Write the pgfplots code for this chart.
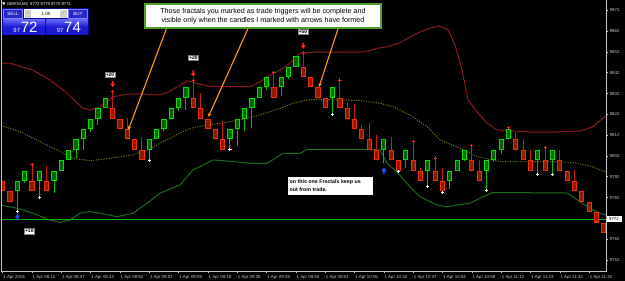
\documentclass[border=0pt]{standalone}
\usepackage{fontspec}
\setmainfont{Liberation Sans}
\usepackage{pgfplots}
\pgfplotsset{compat=1.18}
\usepackage{pgfplotstable}
\usetikzlibrary{arrows.meta}

\definecolor{bullEdge}{HTML}{00E000}
\definecolor{bullFill}{HTML}{006400}
\definecolor{bearEdge}{HTML}{F03000}
\definecolor{bearFill}{HTML}{8E1A00}
\definecolor{bullWick}{HTML}{00C000}
\definecolor{bearWick}{HTML}{C82010}
\definecolor{upperBand}{HTML}{8B1A1A}
\definecolor{midBand}{HTML}{7A7A28}
\definecolor{lowerBand}{HTML}{1E6A1E}
\definecolor{bidLine}{HTML}{00B400}
\definecolor{fracRed}{HTML}{FF2020}
\definecolor{fracWhite}{HTML}{EAF4FF}
\definecolor{arrowBlue}{HTML}{2050FF}
\definecolor{noteOrange}{HTML}{FF9A1E}
\definecolor{boxGreen}{HTML}{4FA02A}
\definecolor{panelBlue}{HTML}{0A0A90}
\definecolor{btnBlue}{HTML}{2828C8}
\definecolor{bigBlue}{HTML}{1A1AD0}
\definecolor{frameGray}{HTML}{C8C8C8}

\pgfdeclareplotmark{dnarrow}{%
  \pgfpathmoveto{\pgfpoint{-0.9bp}{3.2bp}}%
  \pgfpathlineto{\pgfpoint{0.9bp}{3.2bp}}%
  \pgfpathlineto{\pgfpoint{0.9bp}{0.3bp}}%
  \pgfpathlineto{\pgfpoint{2.6bp}{0.3bp}}%
  \pgfpathlineto{\pgfpoint{0bp}{-3bp}}%
  \pgfpathlineto{\pgfpoint{-2.6bp}{0.3bp}}%
  \pgfpathlineto{\pgfpoint{-0.9bp}{0.3bp}}%
  \pgfpathclose\pgfusepathqfill}
\pgfdeclareplotmark{uparrow}{%
  \pgfpathmoveto{\pgfpoint{-0.9bp}{-3.2bp}}%
  \pgfpathlineto{\pgfpoint{0.9bp}{-3.2bp}}%
  \pgfpathlineto{\pgfpoint{0.9bp}{-0.3bp}}%
  \pgfpathlineto{\pgfpoint{2.6bp}{-0.3bp}}%
  \pgfpathlineto{\pgfpoint{0bp}{3bp}}%
  \pgfpathlineto{\pgfpoint{-2.6bp}{-0.3bp}}%
  \pgfpathlineto{\pgfpoint{-0.9bp}{-0.3bp}}%
  \pgfpathclose\pgfusepathqfill}

% bullish candles: x O H L C
\pgfplotstableread{
x O H L C
2 9785 9790 9775.5 9790
3 9790 9795 9789 9795
5 9790 9795 9782 9795
7 9790 9795 9784 9795
8 9795 9800 9795 9800
9 9800 9805 9800 9805
10 9805 9810 9801 9810
11 9810 9815 9805 9815
12 9815 9820 9813.5 9820
13 9820 9825 9817 9825
14 9825 9830 9825 9830
20 9805 9810 9800 9810
21 9810 9815 9810 9815
22 9815 9820 9814 9820
23 9820 9825 9820 9825
24 9825 9830 9823.5 9830
25 9830 9835 9824 9835
31 9810 9815 9805 9815
32 9815 9820 9807 9820
33 9820 9825 9814 9825
34 9825 9830 9815.5 9830
35 9830 9835 9830 9835
36 9835 9840 9833.5 9840
38 9835 9840 9831 9840
39 9840 9845 9839 9845
40 9845 9850 9845 9850
45 9830 9835 9822 9835
52 9805 9810 9798.5 9810
55 9800 9805 9796 9805
58 9795 9800 9787.5 9800
61 9790 9795 9786 9795
62 9795 9800 9795 9800
63 9800 9805 9799.5 9805
66 9795 9800 9785.5 9800
67 9800 9805 9799 9805
68 9805 9810 9803 9810
69 9810 9815.5 9810 9815
73 9800 9805 9793 9805
75 9800 9805 9793 9805
}\bull

% bearish candles: x O H L C
\pgfplotstableread{
x O H L C
0 9790 9790 9785 9785
1 9785 9785 9780 9780
4 9790 9798 9785 9785
6 9790 9797 9785 9785
15 9825 9833 9820 9820
16 9820 9820 9815 9815
17 9815 9820.5 9810 9810
18 9810 9810 9805 9805
19 9805 9811 9800 9800
26 9830 9838.5 9825 9825
27 9825 9832.5 9820 9820
28 9820 9820 9815 9815
29 9815 9815 9810 9810
30 9810 9819 9805 9805
37 9835 9842 9830 9830
41 9845 9851.5 9840 9840
42 9840 9840 9835 9835
43 9835 9835 9830 9830
44 9830 9830 9825 9825
46 9830 9838.5 9825 9825
47 9825 9828 9820 9820
48 9820 9827 9815 9815
49 9815 9817 9810 9810
50 9810 9818 9805 9805
51 9805 9812 9800 9800
53 9805 9811 9800 9800
54 9800 9800 9794.5 9795
56 9800 9809 9795 9795
57 9795 9796 9790 9790
59 9795 9801 9790 9790
60 9790 9796 9784.5 9785
64 9800 9807 9795 9795
65 9795 9800 9790 9790
70 9810 9813.5 9805 9805
71 9805 9810 9800 9800
72 9800 9805 9795 9795
74 9800 9806 9795 9795
76 9800 9805 9795 9795
77 9795 9795 9790 9790
78 9790 9795.5 9785 9785
79 9785 9785 9780 9780
80 9780 9780 9775 9775
81 9775 9775 9770 9770
82 9770 9770 9765 9765
}\bear

\begin{document}
\begin{tikzpicture}
\fill[black] (0,0) rectangle (625bp,281bp);
\path[use as bounding box] (0,0) rectangle (625bp,281bp);
\begin{axis}[
  at={(1bp,10bp)}, anchor=south west,
  width=605bp, height=271bp, scale only axis,
  xmin=-0.232, xmax=82.3, ymin=9746.7, ymax=9877,
  axis line style={draw=none},
  xtick={0,4,...,80},
  xticklabels={1 Apr 2016,1 Apr 08:12,1 Apr 08:37,1 Apr 08:43,1 Apr 08:52,1 Apr 09:01,1 Apr 09:05,1 Apr 09:18,1 Apr 09:26,1 Apr 09:35,1 Apr 09:45,1 Apr 09:51,1 Apr 10:05,1 Apr 10:32,1 Apr 10:37,1 Apr 10:54,1 Apr 10:59,1 Apr 11:12,1 Apr 11:23,1 Apr 11:32,1 Apr 11:34},
  ytick={9752,9762,9772,9782,9792,9802,9812,9822,9832,9842,9852,9862,9872},
  yticklabels={9752,9762,9772,9782,9792,9802,9812,9822,9832,9842,9852,9862,9872},
  xtick pos=left, ytick pos=right, yticklabel pos=right,
  tick align=outside,
  major tick length=2bp,
  tick style={draw=frameGray, line width=0.6bp},
  /pgf/number format/assume math mode=true,
  tick label style={font=\fontsize{4.4}{5}\selectfont, text=frameGray},
  xticklabel style={anchor=north west, inner sep=0pt, xshift=0.5bp, yshift=-2.5bp},
  yticklabel style={anchor=west, inner sep=0pt, xshift=1.5bp},
]
% bands
\addplot[upperBand, line width=1bp] coordinates {
(-0.23,9846.6) (1.0,9846.6) (4.13,9843.3) (6.45,9838.5) (8.77,9832.3) (10.82,9825.1) (11.91,9824.1) (13.27,9825.6) (15.05,9830.4) (16.96,9831.8) (19.14,9831.8) (21.05,9831.3) (22.41,9832.3) (24.19,9836.1) (25.14,9838.1) (26.92,9836.6) (28.28,9835.4) (29.65,9835.3) (33.74,9835.3) (35.10,9837.7) (36.06,9840.1) (37.83,9843.3) (39.20,9846.6) (39.88,9849.0) (40.56,9851.5) (42.33,9851.9) (45.06,9851.9) (48.74,9851.9) (50.11,9852.7) (51.06,9853.8) (52.43,9854.5) (54.20,9856.5) (55.57,9859.2) (56.93,9861.6) (58.30,9863.5) (59.66,9864.5) (60.75,9862.6) (61.70,9855.4) (62.66,9843.3) (63.48,9828.9) (64.84,9822.7) (66.07,9817.9) (67.44,9814.5) (69.62,9814.0) (71.94,9813.5) (75.07,9813.5) (77.39,9813.8) (78.76,9814.0) (80.53,9816.1) (82.3,9821.5)};
\addplot[midBand, line width=1bp, dash pattern=on 1.1bp off 1.4bp] coordinates {
(-0.23,9816.6) (2.36,9813.7) (5.09,9808.9) (7.41,9804.9) (9.59,9800.9) (11.91,9799.7) (14.64,9800.9) (17.78,9802.5) (19.69,9804.9) (21.05,9807.3) (23.23,9811.3) (25.55,9815.3) (27.87,9816.9) (29.65,9817.7) (32.37,9819.3) (35.10,9821.7) (37.83,9824.9) (39.60,9827.3) (41.51,9828.9) (43.29,9829.3) (46.02,9828.9) (48.74,9828.7) (51.47,9827.3) (53.25,9825.7) (55.57,9821.7) (57.89,9816.1) (59.70,9809.7) (62.39,9805.7) (64.71,9801.7) (67.84,9799.3) (70.16,9799.3) (72.89,9799.3) (76.03,9799.3) (78.35,9798.5) (80.12,9797.2) (82.3,9794.3)};
\addplot[lowerBand, line width=1bp] coordinates {
(-0.23,9778.4) (1.91,9776.9) (4.13,9774.5) (6.45,9771.2) (7.82,9770.1) (9.18,9771.2) (10.55,9774.5) (11.91,9775.3) (13.27,9774.5) (15.59,9772.8) (17.78,9774.5) (19.69,9779.3) (21.46,9784.1) (24.19,9788.1) (25.96,9795.3) (26.92,9796.9) (28.69,9800.1) (31.42,9799.3) (33.74,9798.5) (36.06,9798.5) (38.24,9803.3) (40.56,9803.3) (41.51,9805.1) (42.88,9805.2) (45.06,9805.2) (49.70,9805.2) (51.47,9804.9) (52.43,9798.5) (53.79,9794.3) (55.57,9787.2) (56.93,9782.4) (59.25,9778.4) (60.62,9777.6) (61.98,9778.4) (63.75,9779.3) (65.52,9782.4) (66.89,9784.4) (68.80,9784.4) (76.99,9784.2) (78.76,9780.0) (80.53,9776.0) (82.3,9773.4)};
% bid line
\addplot[bidLine, line width=1bp] coordinates {(-0.23,9771.6) (82.3,9771.6)};
% wicks
\addplot[bullWick, line width=1bp, quiver={u=0, v=\thisrow{H}-\thisrow{L}}] table[x=x, y=L] {\bull};
\addplot[bearWick, line width=1bp, quiver={u=0, v=\thisrow{H}-\thisrow{L}}] table[x=x, y=L] {\bear};
% bodies
\addplot[bullEdge, line width=5.2bp, quiver={u=0, v=\thisrow{C}-\thisrow{O}}] table[x=x, y=O] {\bull};
\addplot[bullFill, line width=3.2bp, quiver={u=0, v=\thisrow{C}-\thisrow{O}-1.0}] table[x=x, y expr=\thisrow{O}+0.5] {\bull};
\addplot[bearEdge, line width=5.2bp, quiver={u=0, v=\thisrow{O}-\thisrow{C}}] table[x=x, y=C] {\bear};
\addplot[bearFill, line width=3.2bp, quiver={u=0, v=\thisrow{O}-\thisrow{C}-1.0}] table[x=x, y expr=\thisrow{C}+0.5] {\bear};
% fractals
\addplot[only marks, mark=+, mark size=1.6bp, fracRed, mark options={line width=0.9bp}] coordinates {
(4,9798) (15,9833) (26,9838.5) (37,9842) (41,9851.5) (46,9838.5) (56,9809) (59,9801) (64,9807) (69,9815.5) (74,9806)};
\addplot[only marks, mark=+, mark size=1.6bp, fracWhite, mark options={line width=0.9bp}] coordinates {
(2,9775.5) (5,9782) (20,9800) (31,9805) (45,9822) (54,9794.5) (58,9787.5) (60,9784.5) (66,9785.5) (73,9793) (75,9793)};
% signal arrows
\addplot[only marks, mark=dnarrow, color=fracRed] coordinates {(15,9836.6) (26,9841.6) (41,9855)};
\addplot[only marks, mark=uparrow, color=arrowBlue] coordinates {(2,9772.6) (52,9795)};
\end{axis}

\begin{scope}[x=1bp, y=-1bp, yshift=281bp]
% frame
\draw[frameGray, line width=0.7bp] (1,0) -- (1,271) -- (606,271) -- (606,0);
% current price label
\fill[white] (606.5,216.4) rectangle (621.5,222.4);
\node[text=black, font=\fontsize{4.4}{5}\selectfont, inner sep=0] at (614,219.4) {9772};
% title
\fill[white] (2.3,2.4) -- (5.3,2.4) -- (3.8,5.2) -- cycle;
\node[anchor=west, text=white, font=\fontsize{4.2}{5}\selectfont, inner sep=0] at (7,4.1) {GER30,M2\ \ 9772 9779 9770 9771};
% trade panel
\fill[panelBlue] (2.5,8.3) rectangle (88.8,35.5);
\fill[btnBlue] (3.5,9.3) rectangle (22.6,18.3);
\draw[blue!50!white, line width=0.4bp] (3.5,9.3) rectangle (22.6,18.3);
\node[text=white, font=\fontsize{4.6}{5}\selectfont, inner sep=0] at (13,13.9) {SELL};
\fill[white] (24,9.3) rectangle (67.6,18.3);
\fill[gray!35] (24.6,9.9) rectangle (31.4,17.7);
\fill[gray!35] (60.2,9.9) rectangle (67,17.7);
\node[text=black, font=\fontsize{4}{5}\selectfont, inner sep=0] at (28,13.8) {-};
\node[text=black, font=\fontsize{4}{5}\selectfont, inner sep=0] at (63.6,13.8) {-};
\node[text=black, font=\fontsize{4.6}{5}\selectfont, inner sep=0] at (46,13.9) {1.00};
\fill[btnBlue] (68.4,9.3) rectangle (87.6,18.3);
\draw[blue!50!white, line width=0.4bp] (68.4,9.3) rectangle (87.6,18.3);
\node[text=white, font=\fontsize{4.6}{5}\selectfont, inner sep=0] at (78,13.9) {BUY};
\shade[top color=blue!60!white, bottom color=bigBlue, middle color=bigBlue] (3.3,19.3) rectangle (45,34.6);
\shade[top color=blue!60!white, bottom color=bigBlue, middle color=bigBlue] (46.7,19.3) rectangle (87.6,34.6);
\node[anchor=base west, text=white, font=\fontsize{6}{6}\selectfont, inner sep=0] at (13.3,32.3) {97};
\node[anchor=base west, text=white, font=\fontsize{15}{15}\selectfont, inner sep=0] at (20.6,32.3) {72};
\node[anchor=base west, text=white, font=\fontsize{6}{6}\selectfont, inner sep=0] at (56.7,32.3) {97};
\node[anchor=base west, text=white, font=\fontsize{15}{15}\selectfont, inner sep=0] at (64,32.3) {74};
% orange pointers
\draw[noteOrange, line width=1.1bp, -{Stealth[length=4bp, width=3.6bp]}] (166.7,28) -- (128.3,130);
\draw[noteOrange, line width=1.1bp, -{Stealth[length=4bp, width=3.6bp]}] (248.3,28) -- (208.3,117);
\draw[noteOrange, line width=1.1bp, -{Stealth[length=4bp, width=3.6bp]}] (338.3,28) -- (319,87);
% callout
\draw[boxGreen, line width=1.6bp, fill=white] (145,4.2) rectangle (381,28.3);
\node[text=black, align=center, font=\fontsize{7.2}{8.4}\selectfont, inner sep=0] at (263,16) {Those fractals you marked as trade triggers will be complete and\\visible only when the candles I marked with arrows have formed};
% note
\fill[white] (288,176.6) rectangle (373,195);
\node[anchor=west, text=black, align=left, font=\bfseries\fontsize{5.3}{8}\selectfont, inner sep=0] at (289.5,185.6) {on this one Fractals keep us\\out from trade.};
% profit labels
\node[fill=white, draw=gray, line width=0.4bp, inner sep=0.9bp, text=black, font=\bfseries\fontsize{5}{5}\selectfont] at (110,74.5) {+20};
\node[fill=white, draw=gray, line width=0.4bp, inner sep=0.9bp, text=black, font=\bfseries\fontsize{5}{5}\selectfont] at (193.5,57.5) {+20};
\node[fill=white, draw=gray, line width=0.4bp, inner sep=0.9bp, text=black, font=\bfseries\fontsize{5}{5}\selectfont] at (303,32) {+50};
\node[fill=white, draw=gray, line width=0.4bp, inner sep=0.9bp, text=black, font=\bfseries\fontsize{5}{5}\selectfont] at (29.3,231.2) {+10};
\end{scope}
\end{tikzpicture}
\end{document}
